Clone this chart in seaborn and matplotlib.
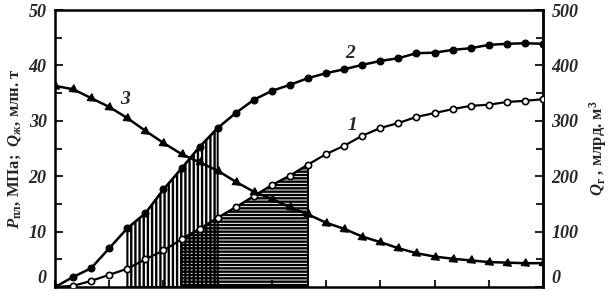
import numpy as np
import pandas as pd
import matplotlib
matplotlib.use("Agg")
import matplotlib.pyplot as plt
import seaborn as sns

# ---- data ----
years = list(range(28))
q_liquid = [0, 1.8, 3.4, 7.0, 10.6, 13.3, 17.6, 21.4, 25.3, 28.7, 31.4, 33.8, 35.4, 36.5,
            37.7, 38.6, 39.3, 40.1, 40.8, 41.3, 42.2, 42.3, 42.8, 43.1, 43.7, 43.9, 44.0, 43.9]
q_gas = [0, 2, 11, 22, 33, 50, 66, 86, 105, 125, 144, 164, 184, 201,
         221, 240, 255, 273, 287, 296, 307, 314, 321, 327, 329, 334, 336, 339]
p_res = [36.3, 35.7, 34.1, 32.5, 30.5, 28.2, 26.0, 24.0, 22.5, 21.0, 19.0, 17.2, 15.9, 14.4,
         13.1, 11.6, 10.5, 9.1, 8.1, 7.0, 6.1, 5.5, 5.1, 4.8, 4.5, 4.4, 4.3, 4.3]
curve_labels = ["1", "2", "3"]
left_ticks = [0, 10, 20, 30, 40, 50]
right_ticks = [0, 100, 200, 300, 400, 500]
vert_span = (4, 9)    # indices of vertically hatched zone (under curve 2)
horiz_span = (7, 14)  # indices of horizontally hatched zone (under curve 1)
GAS_RATIO = 10.0      # right axis units per left axis unit

sns.set_style("white")
plt.rcParams["font.family"] = ["Liberation Serif", "DejaVu Serif"]
plt.rcParams["mathtext.fontset"] = "custom"
plt.rcParams["mathtext.it"] = "Liberation Serif:italic:bold"
plt.rcParams["mathtext.rm"] = "Liberation Serif:bold"
plt.rcParams["mathtext.bf"] = "Liberation Serif:bold"
plt.rcParams["hatch.linewidth"] = 1.7
plt.rcParams["hatch.color"] = "black"

df = pd.DataFrame({"year": years, "ql": q_liquid,
                   "qg_left": np.array(q_gas) / GAS_RATIO, "p": p_res})

fig = plt.figure(figsize=(6.08, 2.91), dpi=100)
ax = fig.add_axes([55 / 608, 4 / 291, (543 - 55) / 608, (287 - 10) / 291])

x = np.array(years)
ql = np.array(q_liquid)
qgl = df["qg_left"].to_numpy()

# hatched zones
a, b = vert_span
ax.fill_between(x[a:b + 1], 0, ql[a:b + 1], facecolor="none", edgecolor="black",
                hatch="||||", linewidth=1.4, zorder=1)
a, b = horiz_span
ax.fill_between(x[a:b + 1], 0, qgl[a:b + 1], facecolor="none", edgecolor="black",
                hatch="-----", linewidth=1.4, zorder=1)

sns.lineplot(data=df, x="year", y="qg_left", ax=ax, color="black", lw=1.6,
             marker="o", markersize=4.5, markerfacecolor="white",
             markeredgecolor="black", markeredgewidth=1.2, zorder=4)
sns.lineplot(data=df, x="year", y="ql", ax=ax, color="black", lw=1.8,
             marker="o", markersize=5, markerfacecolor="black",
             markeredgecolor="black", zorder=4)
sns.lineplot(data=df, x="year", y="p", ax=ax, color="black", lw=1.8,
             marker=(3, 0, -125), markersize=7, markerfacecolor="black",
             markeredgecolor="black", zorder=4)

ax.set_xlim(0, 27)
ax.set_ylim(0, 50)
ax.set_xticks(np.arange(0, 28, 3))
ax.set_xticklabels([])
ax.set_yticks(left_ticks)
ax.set_yticks(np.arange(5, 50, 10), minor=True)
ax.set_yticklabels([str(t) for t in left_ticks], fontsize=13,
                   fontweight="bold", fontstyle="italic")
ax.tick_params(axis="x", direction="in", length=5, width=1.5, bottom=True, top=False)
ax.tick_params(axis="y", which="major", direction="in", length=6, width=1.5, left=True, pad=6)
ax.tick_params(axis="y", which="minor", direction="in", length=5, width=1.5, left=True)
for s in ax.spines.values():
    s.set_linewidth(1.8)
    s.set_color("black")
ax.set_xlabel("")
ax.set_ylabel(r"$P_{\mathrm{пл}}$, МПа;  $Q_{\mathrm{ж}}$, млн. т", fontsize=12,
              fontweight="bold", labelpad=4)
ax.get_yticklabels()[0].set_verticalalignment("bottom")

sec = ax.secondary_yaxis("right", functions=(lambda y: y * GAS_RATIO,
                                              lambda y: y / GAS_RATIO))
sec.set_yticks(right_ticks)
sec.set_yticks(np.arange(50, 500, 100), minor=True)
sec.set_yticklabels([str(t) for t in right_ticks], fontsize=13,
                    fontweight="bold", fontstyle="italic")
sec.tick_params(axis="y", which="major", direction="in", length=6, width=1.5, pad=6)
sec.tick_params(axis="y", which="minor", direction="in", length=5, width=1.5)
sec.spines["right"].set_linewidth(1.8)
sec.set_ylabel(r"$Q_{\mathrm{г}}$ , млрд. м$^3$", fontsize=12, fontweight="bold",
               labelpad=6)
sec.get_yticklabels()[0].set_verticalalignment("bottom")

# curve labels
ax.text(16.46, 29.2, curve_labels[0], fontsize=14, fontweight="bold",
        fontstyle="italic", ha="center", va="center")
ax.text(16.35, 42.2, curve_labels[1], fontsize=14, fontweight="bold",
        fontstyle="italic", ha="center", va="center")
ax.text(3.87, 33.9, curve_labels[2], fontsize=14, fontweight="bold",
        fontstyle="italic", ha="center", va="center")

fig.savefig("out.png", dpi=100)
